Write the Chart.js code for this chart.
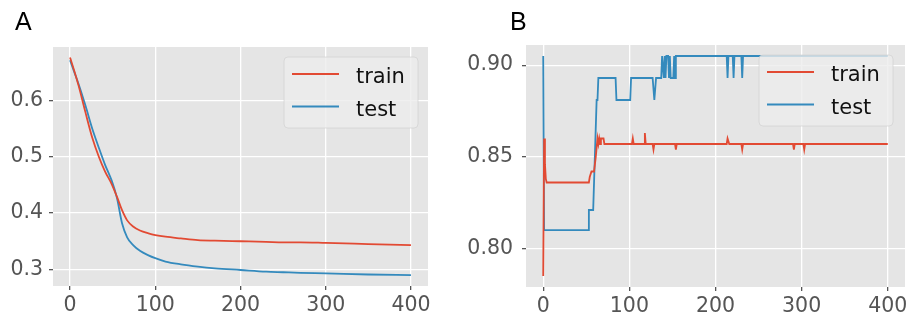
<!DOCTYPE html>
<html>
<head>
<meta charset="utf-8">
<script src="https://cdn.jsdelivr.net/npm/chart.js@4"></script>
<style>
  html, body { margin: 0; padding: 0; background: #fff; }
  #wrap { position: relative; width: 912px; height: 320px; overflow: hidden; }
  canvas { position: absolute; top: 0; }
  .tag { position: absolute; font-family: 'Liberation Sans', Arial, sans-serif; font-size: 25px; color: #000; line-height: 1; }
</style>
</head>
<body>
<div id="wrap">
  <canvas id="chartA" width="456" height="320" style="left:0"></canvas>
  <canvas id="chartB" width="456" height="320" style="left:456px"></canvas>
  <div class="tag" style="left:15px; top:9px">A</div>
  <div class="tag" style="left:510px; top:9px">B</div>
</div>
<script>
// панель A: потери по эпохам
const epochsA = [0, 5, 10, 18, 26, 34, 41, 49, 55, 61, 67, 74, 82, 92, 100, 112, 130, 150, 170, 200, 230, 250, 270, 300, 350, 400];
const trainA = [0.676, 0.652, 0.626, 0.579, 0.534, 0.499, 0.474, 0.451, 0.429, 0.405, 0.387, 0.376, 0.369, 0.364, 0.361, 0.358, 0.355, 0.352, 0.351, 0.350, 0.349, 0.348, 0.348, 0.347, 0.345, 0.343];
const testA = [0.671, 0.650, 0.629, 0.591, 0.550, 0.515, 0.486, 0.457, 0.427, 0.382, 0.357, 0.343, 0.333, 0.325, 0.320, 0.314, 0.309, 0.305, 0.302, 0.299, 0.296, 0.295, 0.294, 0.293, 0.291, 0.290];

// панель B: точность по эпохам
const epochsTrainB = [0, 1, 2, 3, 4, 53, 54, 56, 59, 61, 63, 64, 65, 66, 67, 70, 71, 103, 104, 105, 117, 118, 119, 127, 128, 129, 153, 154, 155, 213, 214, 216, 230, 231, 232, 290, 291, 292, 302, 303, 304, 400];
const trainB = [0.785, 0.860, 0.846, 0.838, 0.836, 0.836, 0.839, 0.842, 0.842, 0.850, 0.860, 0.857, 0.860, 0.857, 0.860, 0.860, 0.857, 0.857, 0.860, 0.857, 0.857, 0.863, 0.857, 0.857, 0.854, 0.857, 0.857, 0.854, 0.857, 0.857, 0.860, 0.857, 0.857, 0.854, 0.857, 0.857, 0.854, 0.857, 0.857, 0.854, 0.857, 0.857];
const epochsTestB = [0, 1, 52, 53, 58, 62, 63, 64, 84, 85, 101, 102, 127, 129, 131, 137, 138, 139, 140, 141, 142, 143, 145, 146, 147, 148, 151, 152, 153, 154, 213, 214, 215, 220, 221, 222, 230, 231, 232, 400];
const testB = [0.905, 0.810, 0.810, 0.821, 0.821, 0.881, 0.881, 0.893, 0.893, 0.881, 0.881, 0.893, 0.893, 0.881, 0.893, 0.893, 0.905, 0.905, 0.893, 0.905, 0.893, 0.905, 0.905, 0.893, 0.905, 0.893, 0.893, 0.905, 0.893, 0.905, 0.905, 0.893, 0.905, 0.905, 0.893, 0.905, 0.905, 0.893, 0.905, 0.905];

const xTicks = [0, 100, 200, 300, 400];
const yTicksA = [0.3, 0.4, 0.5, 0.6];
const yTicksB = [0.80, 0.85, 0.90];

const RED = '#E24A33';
const BLUE = '#348ABD';

function points(xs, ys) {
  return xs.map((x, i) => ({ x: x, y: ys[i] }));
}

// фон области графика и легенда внутри неё
const panelPlugin = {
  id: 'panel',
  beforeDraw(chart) {
    const a = chart.chartArea;
    const ctx = chart.ctx;
    ctx.save();
    ctx.fillStyle = '#E5E5E5';
    ctx.fillRect(a.left, a.top, a.right - a.left, a.bottom - a.top);
    ctx.restore();
  },
  afterDatasetsDraw(chart, args, opts) {
    const ctx = chart.ctx;
    const x = opts.x, y = opts.y;
    ctx.save();
    ctx.beginPath();
    ctx.roundRect(x, y, 134, 71, 4);
    ctx.fillStyle = 'rgba(236,236,236,0.8)';
    ctx.fill();
    ctx.strokeStyle = 'rgba(205,205,205,0.6)';
    ctx.lineWidth = 1;
    ctx.stroke();
    chart.data.datasets.forEach((ds, i) => {
      const ry = y + 17 + i * 32.5;
      ctx.strokeStyle = ds.borderColor;
      ctx.lineWidth = 1.8;
      ctx.beginPath();
      ctx.moveTo(x + 8, ry);
      ctx.lineTo(x + 55, ry);
      ctx.stroke();
      ctx.fillStyle = '#111';
      ctx.font = '21px "DejaVu Sans"';
      ctx.textBaseline = 'alphabetic';
      ctx.fillText(ds.label, x + 72, ry + 9);
    });
    ctx.restore();
  }
};

function makeConfig(train, test, yTicks, yMin, yMax, digits, smooth, layout, legendPos) {
  const lineOpts = {
    borderWidth: 1.8,
    pointRadius: 0,
    fill: false,
    cubicInterpolationMode: smooth ? 'monotone' : 'default',
    tension: 0,
  };
  const tickFont = { family: '"DejaVu Sans"', size: 20.5 };
  return {
    type: 'line',
    data: {
      datasets: [
        Object.assign({ label: 'train', borderColor: RED, backgroundColor: RED, data: train }, lineOpts),
        Object.assign({ label: 'test', borderColor: BLUE, backgroundColor: BLUE, data: test }, lineOpts),
      ],
    },
    options: {
      responsive: false,
      animation: false,
      layout: { padding: { top: layout.top, right: layout.right, bottom: 0, left: 0 } },
      plugins: {
        legend: { display: false },
        tooltip: { enabled: false },
        panel: legendPos,
      },
      scales: {
        x: {
          type: 'linear',
          min: -20,
          max: 420,
          afterBuildTicks: axis => { axis.ticks = xTicks.map(v => ({ value: v })); },
          afterFit: axis => { axis.height = layout.xh; },
          grid: { color: '#fff', lineWidth: 1.3, tickColor: '#555', tickLength: 4 },
          border: { display: false },
          ticks: { color: '#555', font: tickFont, padding: 3, maxRotation: 0, callback: v => String(v) },
        },
        y: {
          type: 'linear',
          min: yMin,
          max: yMax,
          afterBuildTicks: axis => { axis.ticks = yTicks.map(v => ({ value: v })); },
          afterFit: axis => { axis.width = layout.yw; },
          grid: { color: '#fff', lineWidth: 1.3, tickColor: '#555', tickLength: 4 },
          border: { display: false },
          ticks: { color: '#555', font: tickFont, padding: layout.ypad, callback: v => v.toFixed(digits) },
        },
      },
    },
    plugins: [panelPlugin],
  };
}

const chartA = new Chart(document.getElementById('chartA'),
  makeConfig(points(epochsA, trainA), points(epochsA, testA), yTicksA, 0.2706, 0.6945, 1, true,
    { top: 47, right: 28, xh: 34, yw: 53, ypad: 6 }, { x: 284, y: 57 }));

const chartB = new Chart(document.getElementById('chartB'),
  makeConfig(points(epochsTrainB, trainB), points(epochsTestB, testB), yTicksB, 0.779, 0.911, 2, false,
    { top: 45, right: 7, xh: 33, yw: 70, ypad: 9 }, { x: 303, y: 55 }));
</script>
</body>
</html>
